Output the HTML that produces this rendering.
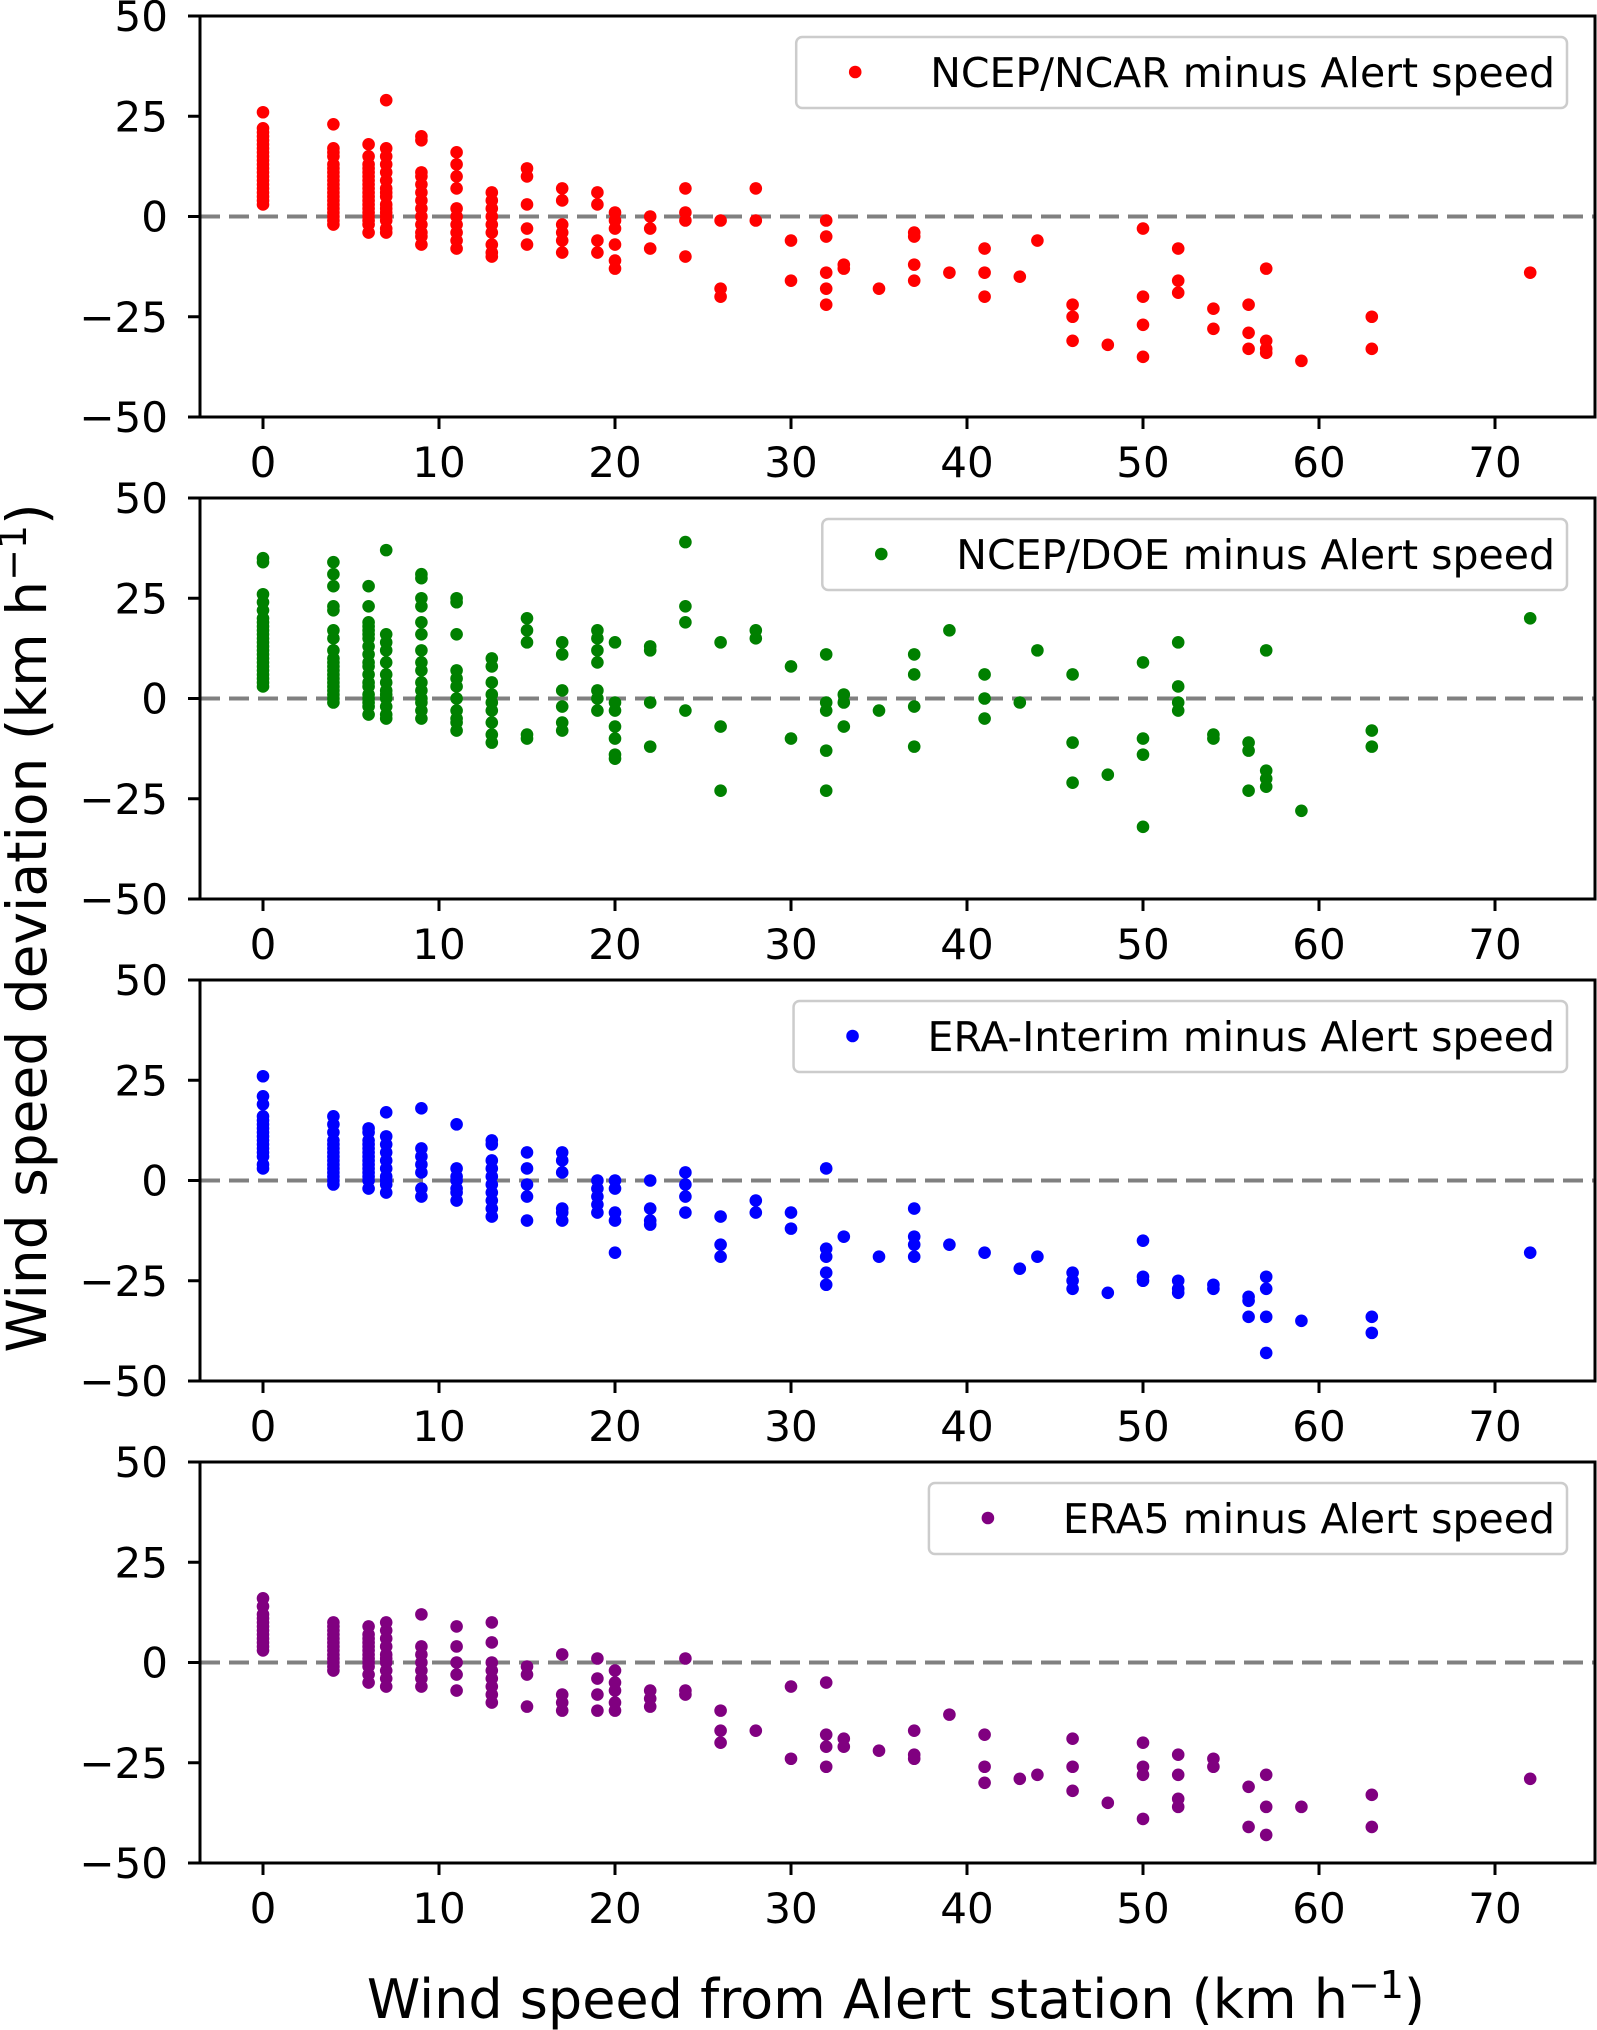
<!DOCTYPE html>
<html><head><meta charset="utf-8"><style>
html,body{margin:0;padding:0;background:#fff}
svg{display:block;font-family:"DejaVu Sans","Liberation Sans",sans-serif}
</style></head><body>
<svg id="chart" width="1597" height="2030" viewBox="0 0 1597 2030" xmlns="http://www.w3.org/2000/svg">
<text x="0" y="0" font-size="55" text-anchor="middle" transform="translate(46,928) rotate(-90)">Wind speed deviation (km h<tspan font-size="38" dy="-20">−1</tspan><tspan dy="20">)</tspan></text>
<text x="896" y="2018" font-size="54" text-anchor="middle">Wind speed from Alert station (km h<tspan font-size="38" dy="-20">−1</tspan><tspan dy="20">)</tspan></text>
</svg>
<script>
const stationSpeeds=[0,4,6,7,9,11,13,15,17,19,20,22,24,26,28,30,32,33,35,37,39,41,43,44,46,48,50,52,54,56,57,59,63,72];
const xTicks=[0,10,20,30,40,50,60,70];
const yTicks=[50,25,0,-25,-50];
const ncepNcar=[[26,22,21,20,19,18,17,16,15,14,13,12,11,10,9,8,7,6,5,4,3],[23,17,16,15,13,12,11,10,9,8,7,6,5,4,3,2,1,0,-1,-2],[18,15,13,12,11,10,9,8,7,6,5,4,3,2,1,0,-1,-2,-4],[29,17,15,13,11,9,7,6,5,3,2,1,0,-1,-3,-4],[20,19,11,10,8,6,4,2,0,-2,-4,-5,-7],[16,13,10,7,2,0,-2,-4,-6,-8],[6,4,2,0,-2,-4,-7,-9,-10],[12,10,3,-3,-7],[7,4,-2,-4,-6,-9],[6,3,-6,-9],[1,-1,-3,-7,-11,-13],[0,-3,-8],[7,1,-1,-10],[-1,-18,-20],[7,-1],[-6,-16],[-1,-5,-14,-18,-22],[-12,-13],[-18],[-4,-5,-12,-16],[-14],[-8,-14,-20],[-15],[-6],[-22,-25,-31],[-32],[-3,-20,-27,-35],[-8,-16,-19],[-23,-28],[-22,-29,-33],[-13,-31,-33,-34],[-36],[-25,-33],[-14]];
const ncepDoe=[[35,34,26,24,22,20,19,18,17,16,15,14,13,12,11,10,9,8,7,6,5,4,3],[34,31,28,23,22,17,15,12,10,9,8,7,6,5,4,3,2,1,0,-1],[28,23,19,18,17,16,15,13,11,9,8,6,4,3,1,0,-1,-2,-4],[37,16,14,12,9,6,4,2,1,0,-2,-4,-5],[31,30,25,23,19,16,12,9,7,4,2,0,-1,-3,-5],[25,24,16,7,5,3,0,-3,-5,-6,-8],[10,8,4,1,-1,-3,-6,-9,-11],[20,17,14,-9,-10],[14,11,2,-2,-6,-8],[17,15,12,9,2,0,-3],[14,-1,-3,-7,-10,-14,-15],[13,12,-1,-12],[39,23,19,-3],[14,-7,-23],[17,15],[8,-10],[11,-1,-3,-13,-23],[1,-1,-7],[-3],[11,6,-2,-12],[17],[6,0,-5],[-1],[12],[6,-11,-21],[-19],[9,-10,-14,-32],[14,3,-1,-3],[-9,-10],[-11,-13,-23],[12,-18,-20,-22],[-28],[-8,-12],[20]];
const eraInterim=[[26,21,19,16,15,14,13,12,11,10,9,8,7,6,4,3],[16,14,12,10,9,8,7,6,5,4,3,2,1,0,-1],[13,12,10,9,8,7,6,5,4,3,2,1,0,-2],[17,11,9,7,5,3,1,0,-1,-3],[18,8,6,4,2,-2,-4],[14,3,1,0,-2,-3,-5],[10,9,5,3,1,-1,-3,-5,-7,-9],[7,3,-1,-4,-10],[7,5,2,-7,-8,-10],[0,-2,-4,-6,-8],[0,-2,-8,-10,-18],[0,-7,-10,-11],[2,-1,-4,-8],[-9,-16,-19],[-5,-8],[-8,-12],[3,-17,-19,-23,-26],[-14],[-19],[-7,-14,-16,-19],[-16],[-18],[-22],[-19],[-23,-25,-27],[-28],[-15,-24,-25],[-25,-27,-28],[-26,-27],[-29,-30,-34],[-24,-27,-34,-43],[-35],[-34,-38],[-18]];
const era5=[[16,14,12,11,10,9,8,7,6,5,4,3],[10,9,8,7,6,5,4,3,2,1,0,-1,-2],[9,7,6,5,4,3,2,1,0,-1,-3,-5],[10,8,6,4,2,1,0,-2,-4,-6],[12,4,2,0,-2,-4,-6],[9,4,0,-3,-7],[10,5,0,-2,-4,-6,-8,-10],[-1,-3,-11],[2,-8,-10,-12],[1,-4,-8,-12],[-2,-5,-7,-10,-12],[-7,-9,-11],[1,-7,-8],[-12,-17,-20],[-17],[-6,-24],[-5,-18,-21,-26],[-19,-21],[-22],[-17,-23,-24],[-13],[-18,-26,-30],[-29],[-28],[-19,-26,-32],[-35],[-20,-26,-28,-39],[-23,-28,-34,-36],[-24,-26],[-31,-41],[-28,-36,-43],[-36],[-33,-41],[-29]];
const seriesLabels=["NCEP/NCAR minus Alert speed","NCEP/DOE minus Alert speed","ERA-Interim minus Alert speed","ERA5 minus Alert speed"];
const seriesColors=["#ff0000","#008000","#0000ff","#800080"];
const seriesData=[ncepNcar,ncepDoe,eraInterim,era5];

const NS="http://www.w3.org/2000/svg";
const svg=document.getElementById('chart');
const L=200,R=1595,X0=263,XPX=17.6,PH=401,PTOPS=[16,498,980,1462];
function xs(v){return X0+v*XPX;}
function mk(tag,attrs,parent){const e=document.createElementNS(NS,tag);for(const k in attrs)e.setAttribute(k,attrs[k]);(parent||svg).appendChild(e);return e;}
seriesData.forEach((data,p)=>{
  const top=PTOPS[p];
  const ys=v=>top+PH/2-v*(PH/100);
  const g=mk('g',{});
  
  
  const zl=mk('line',{x1:L,x2:R,y1:ys(0),y2:ys(0),stroke:'#808080','stroke-width':4,'stroke-dasharray':'20,9'},g);
  
  
  data.forEach((col,i)=>{col.forEach(v=>{
    const c=mk('circle',{cx:xs(stationSpeeds[i]),cy:ys(v),r:6.3,fill:seriesColors[p]},g);
    
    
  });});
  const fr=mk('rect',{x:L,y:top,width:R-L,height:PH,fill:'none',stroke:'#000','stroke-width':3},g);
  
  
  yTicks.forEach(t=>{
    mk('line',{x1:L-12,x2:L,y1:ys(t),y2:ys(t),stroke:'#000','stroke-width':3},g);
    const tx=mk('text',{x:L-32,y:ys(t)+15,'font-size':42,'text-anchor':'end'},g);
    tx.textContent=t<0?'\u2212'+(-t):String(t);
    
    
  });
  xTicks.forEach(t=>{
    mk('line',{x1:xs(t),x2:xs(t),y1:top+PH,y2:top+PH+12,stroke:'#000','stroke-width':3},g);
    const tx=mk('text',{x:xs(t),y:top+PH+60,'font-size':42,'text-anchor':'middle'},g);
    tx.textContent=String(t);
    
    
  });
  const lg=mk('g',{},g);
  
  
  const box=mk('rect',{x:0,y:top+21,width:10,height:71,rx:6,fill:'#fff',stroke:'#cccccc','stroke-width':2.5},lg);
  const lt=mk('text',{x:1555,y:top+71,'font-size':41,'text-anchor':'end'},lg);
  lt.textContent=seriesLabels[p];
  
  
  const w=lt.getComputedTextLength();
  const ts=1555-w;
  box.setAttribute('x',ts-134);box.setAttribute('width',1567-(ts-134));
  const lm=mk('circle',{cx:ts-75,cy:top+56,r:6.3,fill:seriesColors[p]},lg);
  
  
});
</script>
</body></html>
